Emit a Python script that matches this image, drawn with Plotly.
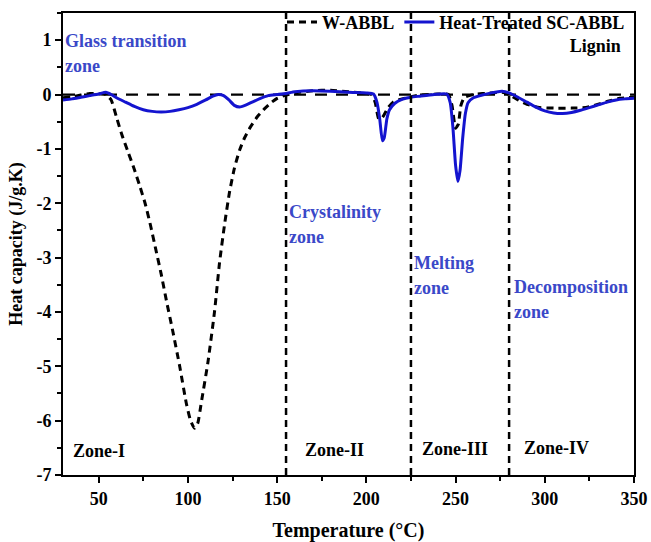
import plotly.graph_objects as go

# ---- data ----
temp_w = [30, 35, 40, 45, 50, 54, 57, 60, 63, 66.5, 70, 73, 76, 79, 82, 85, 88, 91.5, 95.4,
          99.1, 101.5, 103.7, 105.5, 107.5, 111.2, 114.9, 117.7, 120.5, 123.3, 126.1, 129,
          131.7, 135, 139.1, 143, 146.6, 150, 154, 160, 170, 180, 190, 200, 203, 205, 207, 209,
          212, 215, 220, 225, 230, 240, 246, 248, 250, 251.5, 253, 255, 260, 270, 276, 280, 285,
          290, 297, 305, 315, 323, 330, 336, 342, 350]
cp_w = [-0.06, -0.04, -0.01, 0.02, 0.01, 0.0, -0.1, -0.42, -0.74, -1.06, -1.38, -1.68, -2.0,
        -2.4, -2.85, -3.3, -3.8, -4.35, -5.0, -5.68, -6.0, -6.14, -6.05, -5.67, -4.93, -4.0,
        -3.1, -2.4, -1.8, -1.35, -1.02, -0.8, -0.6, -0.4, -0.26, -0.15, -0.07, -0.02, 0.03,
        0.07, 0.08, 0.05, 0.02, 0.0, -0.15, -0.45, -0.42, -0.25, -0.14, -0.08, -0.04, -0.01,
        0.01, 0.0, -0.2, -0.62, -0.55, -0.2, -0.05, 0.0, 0.03, 0.04, 0.0, -0.1, -0.18, -0.24,
        -0.25, -0.25, -0.24, -0.18, -0.12, -0.07, -0.05]

temp_ht = [30, 35, 40, 45, 50, 54, 57, 60, 65, 70, 75, 80, 85, 90, 95, 100, 105, 110, 114, 117,
           120, 123, 126, 129, 132, 136, 140, 145, 150, 155, 160, 170, 180, 190, 200, 204, 206,
           207.5, 209, 210, 211.5, 213, 216, 220, 225, 230, 238, 245, 247, 248.5, 250, 251.3,
           252.5, 254, 255.5, 257, 260, 265, 270, 276, 280, 285, 290, 295, 300, 305, 310, 315,
           320, 325, 330, 335, 340, 345, 350]
cp_ht = [-0.10, -0.08, -0.05, -0.02, 0.01, 0.04, 0.0, -0.06, -0.14, -0.22, -0.28, -0.31, -0.32,
         -0.31, -0.28, -0.24, -0.18, -0.10, -0.03, 0.0, -0.02, -0.10, -0.20, -0.23, -0.20, -0.14,
         -0.08, -0.02, 0.0, 0.02, 0.05, 0.07, 0.06, 0.04, 0.03, 0.01, -0.15, -0.45, -0.85, -0.80,
         -0.45, -0.28, -0.16, -0.09, -0.05, -0.03, 0.0, 0.01, -0.15, -0.6, -1.3, -1.6, -1.4, -0.8,
         -0.35, -0.15, -0.06, -0.01, 0.03, 0.06, 0.03, -0.05, -0.14, -0.23, -0.30, -0.34, -0.35,
         -0.33, -0.29, -0.24, -0.19, -0.14, -0.10, -0.08, -0.07]

zone_bounds = [155, 225, 280]

zone_names = ["Zone-I", "Zone-II", "Zone-III", "Zone-IV"]
zone_name_x = [34.5, 164.5, 229.8, 287]
zone_name_y = [-6.56, -6.54, -6.52, -6.5]

stage_lines = ["Glass transition", "zone", "Crystalinity", "zone", "Melting", "zone",
               "Decomposition", "zone"]
stage_x = [30.2, 30.2, 155.6, 155.6, 225.4, 225.4, 281.4, 281.4]
stage_y = [0.985, 0.525, -2.16, -2.62, -3.10, -3.56, -3.54, -4.0]

x_ticks = [50, 100, 150, 200, 250, 300, 350]
y_ticks = [-7, -6, -5, -4, -3, -2, -1, 0, 1]
y_tick_text = ["-7", "-6", "-5", "-4", "-3", "-2", "-1", "0", "1"]

FONT = "Liberation Serif"
BLUE_TEXT = "#3a48c8"

fig = go.Figure()

# horizontal zero baseline
fig.add_hline(y=0, line=dict(color="black", width=2.2, dash="12px,9px"), layer="below")

fig.add_trace(go.Scatter(x=temp_w, y=cp_w, mode="lines", name="W-ABBL",
                         line=dict(color="black", width=3, dash="7px,5px", shape="spline",
                                   smoothing=0.5)))
fig.add_trace(go.Scatter(x=temp_ht, y=cp_ht, mode="lines",
                         name="Heat-Treated SC-ABBL<br>" + "\u00a0" * 29 + "Lignin",
                         line=dict(color="#1414cf", width=3, shape="spline", smoothing=0.5)))

for xb in zone_bounds:
    fig.add_shape(type="line", x0=xb, x1=xb, y0=0, y1=1, xref="x", yref="paper",
                  line=dict(color="black", width=2.5, dash="7px,5px"))

for t, x, y in zip(zone_names, zone_name_x, zone_name_y):
    fig.add_annotation(x=x, y=y, text="<b>" + t + "</b>", showarrow=False, xanchor="left",
                       yanchor="middle", font=dict(family=FONT, size=18, color="black"))

for t, x, y in zip(stage_lines, stage_x, stage_y):
    fig.add_annotation(x=x, y=y, text="<b>" + t + "</b>", showarrow=False, xanchor="left",
                       yanchor="middle", align="left",
                       font=dict(family=FONT, size=18, color=BLUE_TEXT))

axis_common = dict(showline=True, linecolor="black", linewidth=2, mirror=True,
                   ticks="outside", tickcolor="black", tickwidth=2, ticklen=6,
                   showgrid=False, zeroline=False, automargin=False,
                   tickfont=dict(family=FONT, size=18, color="black", weight="bold"))

fig.update_layout(
    width=651, height=542,
    margin=dict(l=63, r=17, t=13, b=67, autoexpand=False),
    paper_bgcolor="white", plot_bgcolor="white",
    showlegend=True,
    legend=dict(orientation="h", x=0.993, xanchor="right", y=1.02, yanchor="top",
                bgcolor="rgba(0,0,0,0)", font=dict(family=FONT, size=18, color="black", weight="bold"),
                valign="top", itemwidth=30, tracegroupgap=0),
    xaxis=dict(range=[30, 350], tickvals=x_ticks,
               minor=dict(dtick=25, ticks="outside", ticklen=4, tickcolor="black", tickwidth=1.5),
               title=dict(text="Temperature (°C)", font=dict(family=FONT, size=20, color="black",
                                                               weight="bold"), standoff=15),
               **axis_common),
    yaxis=dict(range=[-7, 1.5], tickvals=y_ticks, ticktext=y_tick_text,
               minor=dict(dtick=0.5, ticks="outside", ticklen=4, tickcolor="black", tickwidth=1.5),
               title=dict(text="Heat capacity (J/g.K)", font=dict(family=FONT, size=18,
                                                                    color="black", weight="bold"),
                          standoff=9),
               **axis_common),
)

# remove the browser's default 8px body margin so the figure fills the window exactly
fig.write_html("out.html", config={"displayModeBar": False},
               post_script="document.body.style.margin='0';document.body.style.overflow='hidden';")
